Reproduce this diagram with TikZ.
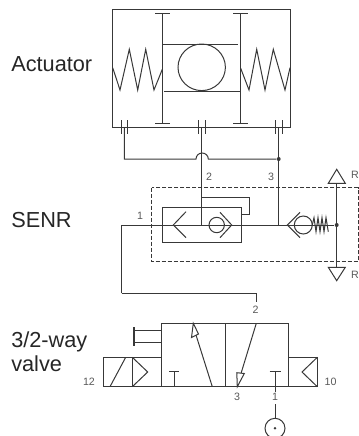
\documentclass[tikz,border=0pt]{standalone}
\usepackage{fontspec}
\setmainfont{Liberation Sans}
\definecolor{linegray}{gray}{0.22}
\definecolor{portgray}{gray}{0.35}
\tikzset{
  pipe/.style={draw=linegray, line width=0.75pt},
  caption/.style={anchor=west, align=left, inner sep=0pt, text=black!85, font=\fontsize{16.3}{17.8}\selectfont},
  portlabel/.style={inner sep=0pt, text=portgray, font=\fontsize{8}{9}\selectfont},
  junction/.style={circle, fill=linegray, inner sep=0pt, minimum size=3pt},
}
\begin{document}
\begin{tikzpicture}[x=0.75pt, y=-0.75pt]
\useasboundingbox (0, 0) rectangle (359, 436);
% Captions on the left
\node[caption] (actuator) at (11, 64) {Actuator};
\node[caption] (senr) at (11, 220.5) {SENR};
\node[caption] (wayvalve) at (11, 351.5) {3/2-way\\valve};
% Actuator housing
\draw[pipe] (112.7, 9) rectangle (290, 127);
% Piston rods with end stops
\draw[pipe] (162.3, 13.3) -- (162.3, 123);
\draw[pipe] (155, 13.3) -- (169.7, 13.3);
\draw[pipe] (155, 123) -- (169.7, 123);
\draw[pipe] (240.7, 13.3) -- (240.7, 123);
\draw[pipe] (233, 13.3) -- (248, 13.3);
\draw[pipe] (233, 123) -- (248, 123);
% Piston with ball
\draw[pipe] (162.3, 44) -- (238, 44);
\draw[pipe] (164, 91) -- (240.7, 91);
\draw[pipe] (201.7, 67.3) ellipse (23.7 and 23.3);
% Springs either side
\draw[pipe] (112.7, 67.7) -- (120, 90) -- (129.3, 49.3) -- (137.7, 90) -- (145.7, 49.3) -- (154, 90) -- (162.3, 69.3);
\draw[pipe] (240.7, 68.3) -- (249, 90) -- (256.7, 49.3) -- (265, 90) -- (273.3, 49.3) -- (285, 90) -- (290, 67.7);
% Actuator ports
\foreach \x in {124.3, 201.7, 278.7} {
  \draw[pipe] (\x-3.3, 120) -- (\x-3.3, 134);
  \draw[pipe] (\x+3.3, 120) -- (\x+3.3, 134);
}
% Coordinates the pipes run through
\coordinate (portl) at (124.3, 127);
\coordinate (portm) at (201.7, 127);
\coordinate (portr) at (278.7, 127);
\coordinate (archl) at (196, 159);
\coordinate (teem) at (201.7, 225);
\coordinate (teer) at (278.7, 225);
\coordinate (loopa) at (201.7, 197.7);
\coordinate (loopb) at (249.3, 197.7);
\coordinate (loopc) at (249.3, 214.7);
\coordinate (loopd) at (241.3, 214.7);
\coordinate (bendl) at (121.7, 225);
\coordinate (bendb) at (121.7, 293.3);
\coordinate (bendr) at (256.3, 293.3);
\coordinate (valvetop) at (256.3, 301.7);
% Pipes from the actuator
\node[junction] (dotr) at (278.7, 159) {};
\draw[pipe] (portl) -- (124.3, 159) -- (archl) arc[start angle=180, end angle=360, x radius=6.15, y radius=6] -- (dotr);
\draw[pipe] (portm) -- (teem);
\draw[pipe] (portr) -- (dotr) -- (teer);
% Main pipe through the SENR
\node[junction] (dotex) at (336.7, 225) {};
\draw[pipe] (bendb) -- (bendl) -- (dotex);
\draw[pipe] (loopa) -- (loopb) -- (loopc) -- (loopd);
% Pipe down to the valve
\draw[pipe] (bendb) -- (bendr) -- (valvetop);
% Dashed frame of the SENR
\draw[pipe, dash pattern=on 3pt off 1.5pt] (151.7, 187.7) rectangle (358, 261.7);
% Inner box with chevron and check valve
\draw[pipe] (162.7, 207.7) rectangle (241.3, 242);
\draw[pipe] (186, 211.7) -- (173.3, 225) -- (186, 237.7);
\draw[pipe] (216.7, 225) circle (7.7);
\draw[pipe] (220, 212.3) -- (231.7, 225) -- (220, 237.7);
% Spring loaded check valve
\draw[pipe] (303.3, 225) circle (9);
\draw[pipe] (300, 212.3) -- (287.3, 225) -- (300, 237.7);
\draw[pipe] (312.3, 225) -- (314, 217.7) -- (316, 231.7) -- (318, 217.7) -- (320, 231.7) -- (322, 217.7) -- (324, 231.7) -- (326, 217.7) -- (328.3, 231.7);
% Exhaust line with triangles
\draw[pipe] (336.7, 183.3) -- (dotex) -- (336.7, 267.3);
\draw[pipe] (336.7, 169.3) -- (328.3, 183.3) -- (345.3, 183.3) -- cycle;
\draw[pipe] (328.3, 267.3) -- (345.3, 267.3) -- (336.7, 280.7) -- cycle;
% Valve body
\draw[pipe] (161.7, 323.3) rectangle (225, 386.7);
\draw[pipe] (225, 323.3) rectangle (288.3, 386.7);
% Manual lever
\draw[pipe] (134, 330.7) -- (161.7, 330.7);
\draw[pipe] (134, 342.3) -- (161.7, 342.3);
\draw[pipe, line width=1pt] (134, 327.3) -- (134, 345.7);
% Left solenoid
\draw[pipe] (103.3, 357.3) rectangle (132.3, 386.7);
\draw[pipe] (132.3, 357.3) rectangle (161.7, 386.7);
\draw[pipe] (110, 386.7) -- (125.7, 357.3);
\draw[pipe] (132.3, 357.3) -- (147.7, 372) -- (132.3, 386.7);
% Right solenoid
\draw[pipe] (288.3, 357.3) rectangle (317.3, 386.7);
\draw[pipe] (317.3, 357.3) -- (302, 372) -- (317.3, 386.7);
% Blocked ports
\draw[pipe] (174, 386.7) -- (174, 371);
\draw[pipe] (169, 371) -- (179.3, 371);
\draw[pipe] (275, 391.5) -- (275, 371);
\draw[pipe] (269.7, 371) -- (280.7, 371);
% Flow arrows
\draw[pipe] (212.3, 386.7) -- (196, 335);
\draw[pipe, fill=white] (193.3, 323.3) -- (191.5, 337.5) -- (198.5, 334) -- cycle;
\draw[pipe] (256.3, 323.3) -- (241, 373.5);
\draw[pipe, fill=white] (237.3, 386.7) -- (236.8, 372.7) -- (244.3, 373.5) -- cycle;
% Supply with source
\node[pipe, circle, minimum size=15pt, inner sep=0pt] (source) at (275, 428.3) {};
\node[junction, minimum size=2pt] (sourcedot) at (275, 428.3) {};
\draw[pipe] (275, 404) -- (source);
% Port numbers
\node[portlabel] (labelr1) at (355, 175) {R};
\node[portlabel] (labelr2) at (355, 275) {R};
\node[portlabel] (labela) at (209, 176.7) {2};
\node[portlabel] (labelb) at (271, 176.7) {3};
\node[portlabel] (labelc) at (140, 215.7) {1};
\node[portlabel] (labeld) at (255.7, 310) {2};
\node[portlabel] (labele) at (89, 382) {12};
\node[portlabel] (labelf) at (330.5, 382) {10};
\node[portlabel] (labelg) at (237, 397) {3};
\node[portlabel] (labelh) at (275, 397) {1};
\end{tikzpicture}
\end{document}
